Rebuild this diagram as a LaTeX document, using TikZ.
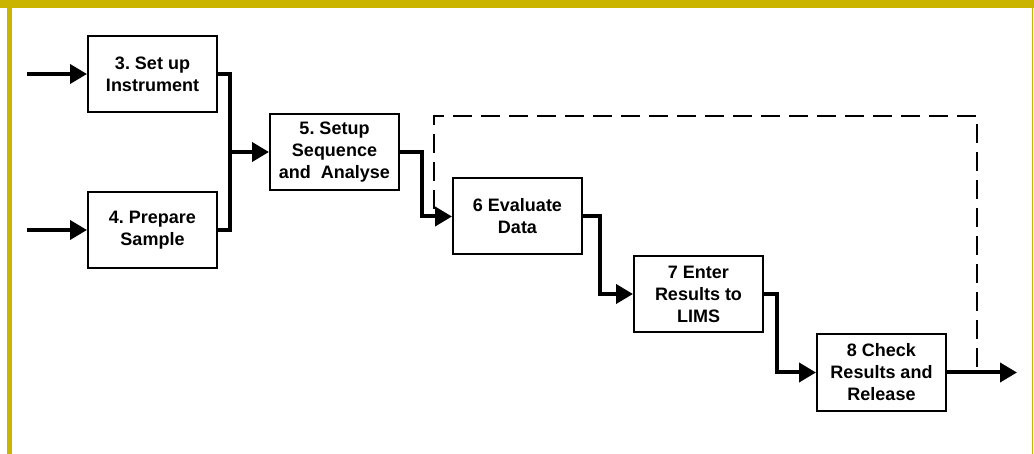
\documentclass[tikz,border=0pt]{standalone}
\usepackage{fontspec}
\setmainfont{Liberation Sans}
\usetikzlibrary{arrows.meta}
\definecolor{frame}{RGB}{202,180,0}
\frenchspacing
\begin{document}
\begin{tikzpicture}[x=1pt,y=-1pt,
  stepbox/.style={draw,line width=2pt,minimum width=129pt,minimum height=76pt,
    inner sep=0pt,align=center,font=\fontsize{18}{22}\selectfont\bfseries},
  flow/.style={line width=4pt,-{Triangle[length=17pt,width=19pt]}},
  link/.style={line width=4pt},
  loop/.style={line width=2pt,dash pattern=on 19pt off 9pt}]
\useasboundingbox (0,0) rectangle (1034,454);
% frame bars
\fill[frame] (0,0) rectangle (1034,8);
\fill[frame] (7,8) rectangle (12,454);
\fill[frame] (1032,8) rectangle (1033,454);
% process steps
\node[stepbox] (b3) at (152.5,74) {3. Set up\\Instrument};
\node[stepbox] (b4) at (152.5,230) {4. Prepare\\Sample};
\node[stepbox] (b5) at (334.5,152) {5. Setup\\Sequence\\and~~Analyse};
\node[stepbox] (b6) at (517.5,216.5) {6 Evaluate\\Data};
\node[stepbox] (b7) at (698.5,294) {7 Enter\\Results to\\LIMS};
\node[stepbox] (b8) at (881.5,372.5) {8 Check\\Results and\\Release};
% free ends and joints
\coordinate (in3) at (27,74);
\coordinate (in4) at (27,230);
\coordinate (j34) at (230,152);
\coordinate (j56) at (422,152);
\coordinate (j67) at (600,216.5);
\coordinate (j78) at (777,294);
\coordinate (out) at (1017,372.5);
\coordinate (d0) at (434,209);
\coordinate (d1) at (434,116);
\coordinate (d2) at (977,116);
\coordinate (d3) at (977,372.5);
% connectors
\draw[flow] (in3) -- (b3);
\draw[flow] (in4) -- (b4);
\draw[link] (b3.east) -| (j34);
\draw[link] (b4.east) -| (j34);
\draw[flow] (j34) -- (b5.west);
\draw[flow] (b5.east) -| (j56) |- (b6.west);
\draw[flow] (b6.east) -| (j67) |- (b7.west);
\draw[flow] (b7.east) -| (j78) |- (b8.west);
\draw[flow] (b8.east) -- (out);
% rework loop
\draw[loop] (d0) -- (d1) -- (d2) -- (d3);
\end{tikzpicture}
\end{document}
